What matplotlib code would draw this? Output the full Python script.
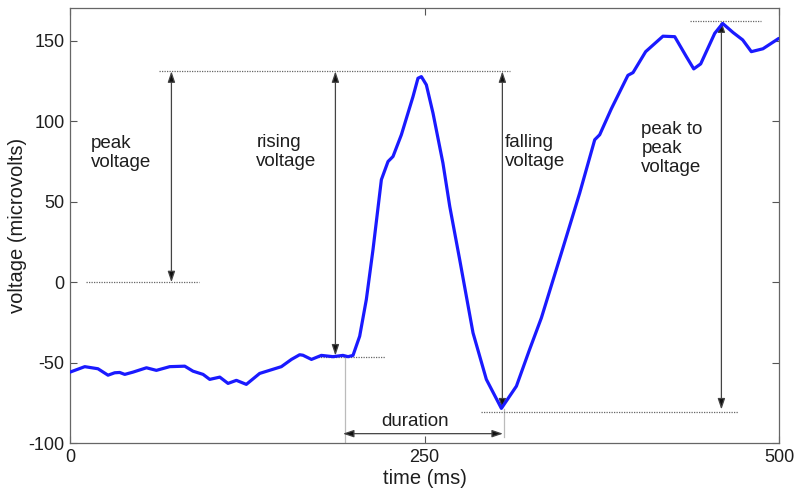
import matplotlib
matplotlib.use("Agg")
import matplotlib.pyplot as plt

plt.rcParams['font.family'] = ['Liberation Sans', 'DejaVu Sans']
plt.rcParams['axes.unicode_minus'] = False

# data
time_ms = [0, 10.4, 19.7, 26.8, 31.5, 35.0, 38.6, 44.4, 53.9, 60.9, 70.3, 80.9, 86.7,
           93.8, 98.5, 105.6, 111.4, 117.3, 124.3, 133.7, 149.0, 156.1, 161.9, 164.2,
           170.2, 177.2, 185.4, 192.4, 196.0, 199.5, 204.2, 208.9, 213.6, 219.5, 224.2,
           227.7, 233.6, 241.8, 245.3, 247.7, 251.2, 255.9, 262.9, 267.7, 274.7, 284.1,
           293.5, 304.1, 314.7, 324.0, 332.3, 346.4, 359.3, 369.9, 373.4, 381.6, 393.3,
           396.9, 405.8, 418.0, 426.3, 434.5, 439.7, 444.6, 454.5, 460.1, 467.4, 474.2,
           480.3, 488.5, 499.6]
voltage = [-55.8, -52.4, -53.7, -57.7, -56.2, -56.0, -57.2, -55.8, -53.1, -54.7, -52.4,
           -52.1, -55.2, -57.2, -60.3, -58.9, -62.8, -60.9, -63.4, -56.6, -52.4, -47.9,
           -45.0, -45.3, -47.9, -45.4, -46.2, -45.4, -46.2, -45.4, -33.5, -10.7, 20.3,
           63.7, 75.0, 78.1, 91.6, 115.3, 126.7, 127.7, 122.6, 105.0, 74.0, 47.1, 14.1,
           -31.4, -60.3, -78.3, -64.5, -41.7, -22.1, 18.2, 55.4, 88.5, 91.6, 107.7, 128.5,
           130.2, 143.2, 152.8, 152.5, 140.1, 132.5, 135.6, 154.6, 160.7, 155.1, 150.5,
           143.2, 145.0, 151.4]

x_ticks = [0, 250, 500]
y_ticks = [-100, -50, 0, 50, 100, 150]

# annotation levels
top_level = 131
base_level = -46.5
min_level = -80.5
max_level = 162
zero_level = 0
duration_y = -94

fig = plt.figure(figsize=(8, 4.94), dpi=100)
ax = fig.add_axes([0.0875, 0.1026, 0.8866, 0.8802])

ax.plot(time_ms, voltage, color='#1a1aff', lw=2.3, solid_joinstyle='round',
        solid_capstyle='round', zorder=5)

dot = dict(color='#666666', lw=0.9, ls=(0, (1, 1)), zorder=3)
ax.plot([63, 310], [top_level, top_level], **dot)
ax.plot([11, 91], [zero_level, zero_level], **dot)
ax.plot([175, 222], [base_level, base_level], **dot)
ax.plot([290, 471], [min_level, min_level], **dot)
ax.plot([437, 487], [max_level, max_level], **dot)

# thin light guide lines for duration
ax.plot([194, 194], [base_level, -99], color='#bbbbbb', lw=0.9, zorder=2)
ax.plot([305.7, 305.7], [-78.5, -96], color='#bbbbbb', lw=0.9, zorder=2)

arr = dict(arrowstyle='<|-|>,head_length=0.65,head_width=0.22', color='#111111',
           lw=0.9, shrinkA=0, shrinkB=0)

def darrow(x0, y0, x1, y1):
    a = ax.annotate('', xy=(x1, y1), xytext=(x0, y0), arrowprops=arr, zorder=4)
    a.arrow_patch.set_edgecolor('#444444')
    a.arrow_patch.set_facecolor('#111111')

darrow(71.5, zero_level, 71.5, top_level)
darrow(187.1, base_level + 1, 187.1, top_level)
darrow(304.8, min_level + 1.5, 304.8, top_level)
darrow(459.2, min_level + 1.5, 459.2, max_level)
darrow(192.4, duration_y, 305.2, duration_y)

fs = 13.5
tc = '#1e1e1e'
ax.text(14.6, 80.5, 'peak\nvoltage', fontsize=fs, va='center', ha='left', color=tc, linespacing=1.15)
ax.text(131.4, 81, 'rising\nvoltage', fontsize=fs, va='center', ha='left', color=tc, linespacing=1.15)
ax.text(306.4, 81, 'falling\nvoltage', fontsize=fs, va='center', ha='left', color=tc, linespacing=1.15)
ax.text(402.8, 83, 'peak to\npeak\nvoltage', fontsize=fs, va='center', ha='left', color=tc, linespacing=1.15)
ax.text(243.5, -86.2, 'duration', fontsize=fs, va='center', ha='center', color=tc)

ax.set_xlim(0, 500)
ax.set_ylim(-100, 170)
ax.set_xticks(x_ticks)
ax.set_yticks(y_ticks)
ax.tick_params(direction='in', length=5, width=0.8, color='#555555', labelsize=13,
               labelcolor=tc, top=True, right=True, pad=4)
for s in ax.spines.values():
    s.set_color('#666666')
    s.set_linewidth(0.9)

ax.set_xlabel('time (ms)', fontsize=14.5, color=tc, labelpad=2)
ax.set_ylabel('voltage (microvolts)', fontsize=14.5, color=tc, labelpad=1)

fig.savefig('out.png', dpi=100)
